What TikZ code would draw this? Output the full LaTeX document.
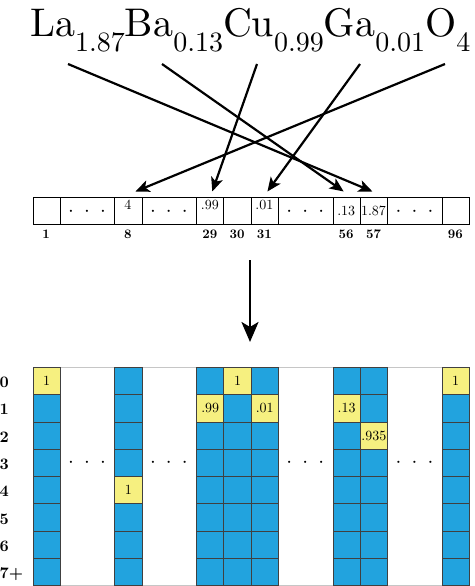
\documentclass[tikz,border=0pt]{standalone}
\usepackage{fontspec}
\setmainfont{lmroman10}[Extension=.otf, UprightFont=*-regular, BoldFont=*-bold, ItalicFont=*-italic, BoldItalicFont=*-bolditalic]
\usetikzlibrary{arrows.meta}
\definecolor{cellblue}{RGB}{34,163,222}
\definecolor{cellyellow}{RGB}{246,240,128}
\newcommand\chemsub[1]{\raisebox{-15pt}{\fontsize{28}{30}\selectfont #1}}
\newcommand\dotsgap{\makebox[16pt]{$\cdot$}\makebox[16pt]{$\cdot$}\makebox[16pt]{$\cdot$}}
\begin{document}
\begin{tikzpicture}[x=1pt,y=-1pt,
  arrcell/.style={draw=black, line width=0.9pt, minimum width=27.28pt, minimum height=27.28pt, inner sep=0pt, anchor=north west},
  gapcell/.style={arrcell, minimum width=54.56pt},
  idx/.style={font=\bfseries\fontsize{13}{15}\selectfont, anchor=base, inner sep=0pt},
  val/.style={font=\fontsize{14}{16}\selectfont, anchor=base, inner sep=0pt},
  dotsrow/.style={font=\fontsize{21}{24}\selectfont, anchor=base, inner sep=0pt},
  arr/.style={line width=2.2pt, -{Stealth[length=14pt,width=12pt,inset=3.5pt]}},
  bigarr/.style={line width=2.6pt, -{Stealth[length=20pt,width=17pt,inset=5pt]}},
  gridcell/.style={draw=black!75, line width=0.8pt, fill=cellblue, minimum width=27.28pt, minimum height=27.28pt, inner sep=0pt, anchor=north west, font=\fontsize{14}{16}\selectfont},
  ycell/.style={gridcell, fill=cellyellow},
  rowlab/.style={font=\bfseries\fontsize{16}{18}\selectfont, anchor=base west, inner sep=0pt},
  frame/.style={draw=gray!45, line width=0.8pt, minimum width=436.48pt, minimum height=218.24pt, inner sep=0pt, anchor=north west}
]
\useasboundingbox (0,0) rectangle (474,586);

% formula
\node[inner sep=0pt, anchor=base west, font=\fontsize{40}{48}\selectfont] (formula) at (30,37)
  {La\chemsub{1.87}Ba\chemsub{0.13}Cu\chemsub{0.99}Ga\chemsub{0.01}O\chemsub{4}};
\coordinate (sLa) at (68,64);
\coordinate (sBa) at (162,64);
\coordinate (sCu) at (257,64);
\coordinate (sGa) at (360,64);
\coordinate (sO)  at (445,64);

% top array
\foreach \k/\n in {0/1,3/8,6/29,7/30,8/31,11/56,12/57,15/96} {
  \node[arrcell] (c\n) at ({32.5+\k*27.28},197) {};
  \node[idx] (l\n) at ({32.5+(\k+0.5)*27.28},238) {\n};
}
\foreach \k/\n in {1/1,4/2,9/3,13/4} {
  \node[gapcell] (gap\n) at ({32.5+\k*27.28},197) {};
  \node[dotsrow] (dt\n) at ({32.5+(\k+1)*27.28},216.2) {\dotsgap};
}
\node[val] (v8)  at (127.98,209.5) {4};
\node[val] (v29) at (209.82,209.5) {.99};
\node[val] (v31) at (264.38,209.5) {.01};
\node[val] (v56) at (346.22,215.5) {.13};
\node[val] (v57) at (373.50,215.5) {1.87};

% arrows from formula
\draw[arr] (sLa) -- ([xshift=-1.5pt,yshift=5.5pt]c57.north);
\draw[arr] (sBa) -- ([xshift=-3pt,yshift=5.5pt]c56.north);
\draw[arr] (sCu) -- ([xshift=2pt,yshift=5.5pt]c29.north);
\draw[arr] (sGa) -- ([xshift=2.6pt,yshift=5.5pt]c31.north);
\draw[arr] (sO)  -- ([xshift=7pt,yshift=5.5pt]c8.north);

% down arrow
\coordinate (dstart) at (250,260);
\coordinate (dend) at (250,342);
\draw[bigarr] (dstart) -- (dend);

% grid
\node[frame] (grid) at (32.5,367) {};
\foreach \k/\n in {0/1,3/8,6/29,7/30,8/31,11/56,12/57,15/96} {
  \foreach \r in {0,...,7} {
    \node[gridcell] (g\n-\r) at ({32.5+\k*27.28},{367+\r*27.28}) {};
  }
}
\foreach \k/\n/\r/\v in {0/1/0/1, 7/30/0/1, 15/96/0/1, 6/29/1/.99, 8/31/1/.01, 11/56/1/.13, 12/57/2/.935, 3/8/4/1} {
  \node[ycell] (y\n-\r) at ({32.5+\k*27.28},{367+\r*27.28}) {\v};
}
\foreach \k/\n in {1/1,4/2,9/3,13/4} {
  \node[dotsrow] (gd\n) at ({32.5+(\k+1)*27.28},467.7) {\dotsgap};
}
\foreach \r/\t in {0/0,1/1,2/2,3/3,4/4,5/5,6/6,7/7+} {
  \node[rowlab] (r\r) at (-0.5,{367+(\r+0.5)*27.28+7}) {\t};
}
\end{tikzpicture}
\end{document}
